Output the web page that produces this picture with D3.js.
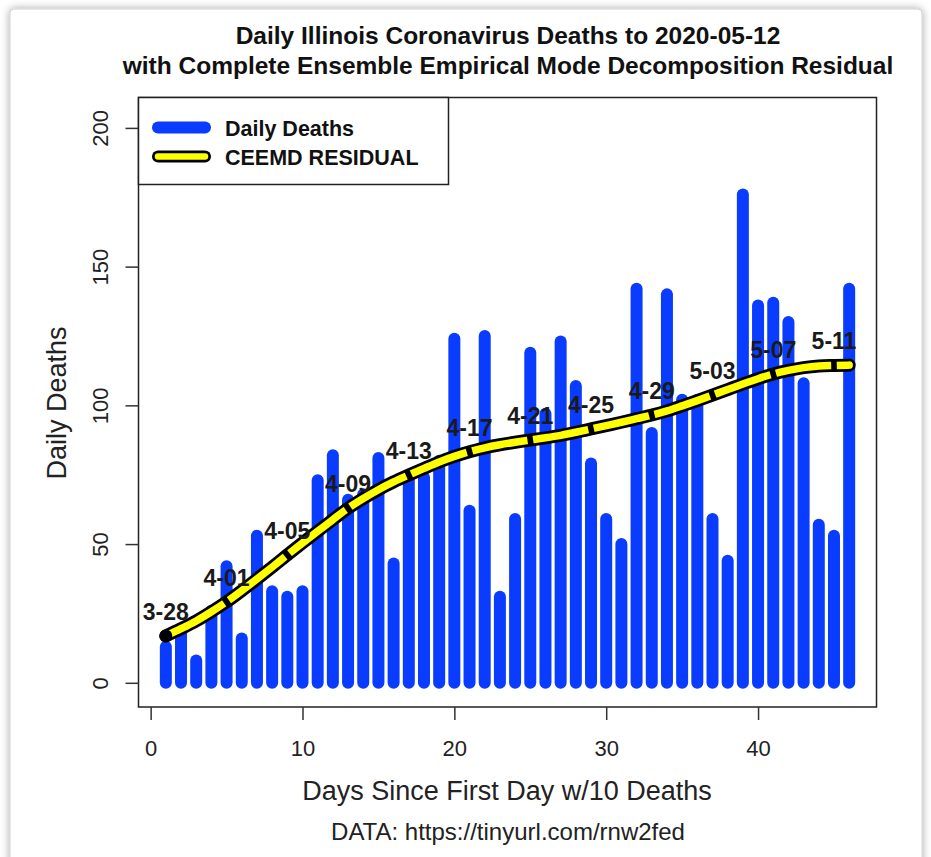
<!DOCTYPE html>
<html>
<head>
<meta charset="utf-8">
<script src="https://cdn.jsdelivr.net/npm/d3@7"></script>
<style>
  html, body { margin: 0; padding: 0; background: #ffffff; }
  svg { display: block; font-family: "Liberation Sans", Arial, Helvetica, sans-serif; }
</style>
</head>
<body>
<svg id="chart" width="931" height="857"></svg>
<script>
// ---- data ----
const days = [1,2,3,4,5,6,7,8,9,10,11,12,13,14,15,16,17,18,19,20,21,22,23,24,25,26,27,28,29,30,31,32,33,34,35,36,37,38,39,40,41,42,43,44,45,46];
const dailyDeaths = [13,18,8,26,42,16,53,33,31,33,73,82,66,68,81,43,74,74,80,124,62,125,31,59,119,97,123,107,79,59,50,142,90,140,102,102,59,44,176,136,137,130,108,57,53,142];
const residual = [16.9,19.5,22.3,25.6,29.2,33.2,37.4,41.7,46.1,50.4,54.6,58.8,62.9,66.4,69.6,72.4,74.9,77.3,79.6,81.6,83.3,84.7,85.8,86.7,87.5,88.3,89.2,90.3,91.5,92.7,93.9,95.2,96.5,98.0,99.8,101.7,103.7,105.7,107.7,109.6,111.3,112.6,113.6,114.2,114.4,114.5];
const labelDays = [1,5,9,13,17,21,25,29,33,37,41,45];
const labelTexts = ["3-28","4-01","4-05","4-09","4-13","4-17","4-21","4-25","4-29","5-03","5-07","5-11"];
const xTicks = [0,10,20,30,40];
const yTicks = [0,50,100,150,200];
const titleLines = ["Daily Illinois Coronavirus Deaths to 2020-05-12",
                    "with Complete Ensemble Empirical Mode Decomposition Residual"];
const legendItems = ["Daily Deaths","CEEMD RESIDUAL"];

// ---- layout ----
const svg = d3.select("#chart");
const plot = {left: 138.5, right: 876.5, top: 97.5, bottom: 707};
const BLUE = "#0a3cff";

// card frame with soft shadow
const defs = svg.append("defs");
const f = defs.append("filter").attr("id","sh").attr("x","-5%").attr("y","-5%").attr("width","110%").attr("height","110%");
f.append("feGaussianBlur").attr("in","SourceAlpha").attr("stdDeviation",4).attr("result","b");
f.append("feOffset").attr("in","b").attr("dx",0).attr("dy",0).attr("result","o");
f.append("feComponentTransfer").append("feFuncA").attr("type","linear").attr("slope",0.35);
const m = f.append("feMerge"); m.append("feMergeNode"); m.append("feMergeNode").attr("in","SourceGraphic");
svg.append("rect").attr("x",10).attr("y",9).attr("width",912).attr("height",870)
   .attr("rx",4).attr("fill","#fff").attr("stroke","#d0d0d0").attr("filter","url(#sh)");

const x = d3.scaleLinear().domain([-0.8, 47.8]).range([plot.left, plot.right]);
const y = d3.scaleLinear().domain([0, 200]).range([682.8, 127.9]);

// bars (R type="h" with thick round-capped lines)
svg.append("g").selectAll("line").data(days).join("line")
  .attr("x1", d => x(d)).attr("x2", d => x(d))
  .attr("y1", y(0)).attr("y2", (d,i) => y(dailyDeaths[i]))
  .attr("stroke", BLUE).attr("stroke-width", 12).attr("stroke-linecap", "round");

// residual line
const pts = days.map((d,i) => [d, residual[i]]);
const line = d3.line().x(p => x(p[0])).y(p => y(p[1])).curve(d3.curveMonotoneX);
svg.append("path").attr("d", line(pts)).attr("fill","none")
  .attr("stroke","#000").attr("stroke-width",13).attr("stroke-linecap","round").attr("stroke-linejoin","round");
svg.append("path").attr("d", line(pts)).attr("fill","none")
  .attr("stroke","#ffff00").attr("stroke-width",7.5).attr("stroke-linecap","round").attr("stroke-linejoin","round");

// markers: short black dashes across the line, oriented with the curve
function angleAt(d) {
  const i = d - 1;
  const a = pts[Math.max(0, i-1)], b = pts[Math.min(pts.length-1, i+1)];
  return Math.atan2(y(b[1]) - y(a[1]), x(b[0]) - x(a[0])) * 180 / Math.PI;
}
svg.append("g").selectAll("rect").data(labelDays.slice(1)).join("rect")
  .attr("x",-2.8).attr("y",-5).attr("width",5.6).attr("height",10).attr("fill","#000")
  .attr("transform", d => `translate(${x(d)},${y(residual[d-1])}) rotate(${angleAt(d)})`);
svg.append("circle").attr("cx", x(labelDays[0])).attr("cy", y(residual[labelDays[0]-1]))
  .attr("r", 6.5).attr("fill","#000");

// date labels
svg.append("g").selectAll("text").data(labelDays).join("text")
  .attr("x", d => x(d)).attr("y", d => y(residual[d-1]) - 16)
  .attr("text-anchor","middle").attr("font-weight","bold").attr("font-size",23).attr("fill","#1a1a1a")
  .text((d,i) => labelTexts[i]);

// plot box
svg.append("rect").attr("x",plot.left).attr("y",plot.top)
  .attr("width",plot.right-plot.left).attr("height",plot.bottom-plot.top)
  .attr("fill","none").attr("stroke","#222").attr("stroke-width",1.5);

// x axis
const gx = svg.append("g").attr("transform",`translate(0,${plot.bottom})`)
  .call(d3.axisBottom(x).tickValues(xTicks).tickSize(13).tickFormat(d3.format("d")));
gx.select(".domain").remove();
gx.selectAll("line").attr("stroke","#333").attr("stroke-width",1.5);
gx.selectAll("text").attr("y",49).attr("dy",null).attr("font-size",22)
  .attr("font-family","Liberation Sans, Arial, sans-serif").attr("fill","#222");

// y axis
const gy = svg.append("g").attr("transform",`translate(${plot.left},0)`)
  .call(d3.axisLeft(y).tickValues(yTicks).tickSize(13).tickFormat(d3.format("d")));
gy.select(".domain").remove();
gy.selectAll("line").attr("stroke","#333").attr("stroke-width",1.5);
gy.selectAll("text").attr("transform","rotate(-90)").attr("x",0).attr("y",-30.5).attr("dy",null)
  .attr("text-anchor","middle").attr("font-size",22)
  .attr("font-family","Liberation Sans, Arial, sans-serif").attr("fill","#222");

// titles
svg.append("g").selectAll("text").data(titleLines).join("text")
  .attr("x", 508).attr("y", (d,i) => 44 + i*30)
  .attr("text-anchor","middle").attr("font-weight","bold").attr("font-size",24.5).attr("fill","#111")
  .text(d => d);

svg.append("text").attr("x",507).attr("y",800).attr("text-anchor","middle")
  .attr("font-size",27).attr("fill","#222").text("Days Since First Day w/10 Deaths");
svg.append("text").attr("transform","translate(65.5,403) rotate(-90)").attr("text-anchor","middle")
  .attr("font-size",27).attr("fill","#222").text("Daily Deaths");
svg.append("text").attr("x",508).attr("y",840).attr("text-anchor","middle")
  .attr("font-size",24).attr("fill","#222").text("DATA: https://tinyurl.com/rnw2fed");

// legend
const lg = svg.append("g");
lg.append("rect").attr("x",plot.left).attr("y",plot.top).attr("width",310).attr("height",87)
  .attr("fill","#fff").attr("stroke","#222").attr("stroke-width",1.5);
const ly = [127.5, 156.5];
lg.append("line").attr("x1",158).attr("x2",205).attr("y1",ly[0]).attr("y2",ly[0])
  .attr("stroke",BLUE).attr("stroke-width",12).attr("stroke-linecap","round");
lg.append("line").attr("x1",158).attr("x2",205).attr("y1",ly[1]).attr("y2",ly[1])
  .attr("stroke","#000").attr("stroke-width",12).attr("stroke-linecap","round");
lg.append("line").attr("x1",158).attr("x2",205).attr("y1",ly[1]).attr("y2",ly[1])
  .attr("stroke","#ffff00").attr("stroke-width",6.5).attr("stroke-linecap","round");
lg.selectAll("text.l").data(legendItems).join("text").attr("class","l")
  .attr("x",225).attr("y",(d,i) => ly[i] + 8)
  .attr("font-weight","bold").attr("font-size",21.5).attr("fill","#111").text(d => d);
</script>
</body>
</html>
